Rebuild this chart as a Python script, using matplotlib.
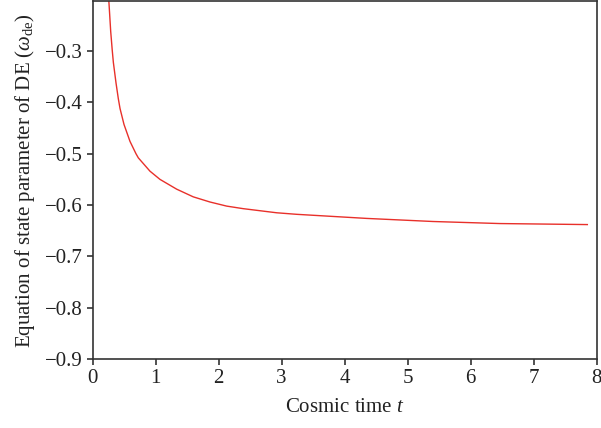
import matplotlib
matplotlib.use("Agg")
import matplotlib.pyplot as plt

# Data
t = [0.245, 0.261, 0.288, 0.312, 0.330, 0.372, 0.409, 0.436, 0.499, 0.594,
     0.689, 0.726, 0.911, 1.070, 1.334, 1.598, 1.862, 2.127, 2.39, 2.655,
     2.92, 3.236, 4.35, 5.40, 6.46, 7.85]
w_de = [-0.18, -0.2075, -0.262, -0.298, -0.322, -0.362, -0.393, -0.412, -0.443, -0.476,
        -0.500, -0.508, -0.534, -0.550, -0.569, -0.584, -0.594, -0.602, -0.607, -0.611,
        -0.615, -0.618, -0.626, -0.632, -0.636, -0.638]
xticks = [0, 1, 2, 3, 4, 5, 6, 7, 8]
yticks = [-0.9, -0.8, -0.7, -0.6, -0.5, -0.4, -0.3]

plt.rcParams['font.family'] = ['Liberation Serif', 'DejaVu Serif']
plt.rcParams['mathtext.fontset'] = 'custom'
plt.rcParams['mathtext.rm'] = 'Liberation Serif'
plt.rcParams['mathtext.it'] = 'Liberation Serif:italic'

fig = plt.figure(figsize=(6.01, 4.28), dpi=100)
ax = fig.add_axes([0.154, 0.161, 0.839, 0.8355])
ax.plot(t, w_de, color='#e8302a', linewidth=1.0, solid_joinstyle='round')
ax.set_xlim(0, 8)
ax.set_ylim(-0.9, -0.2035)
ax.set_xticks(xticks)
ax.set_yticks(yticks)
ax.set_yticklabels([f"\u2212{abs(v):.1f}" for v in yticks])
ax.tick_params(direction='out', length=4, width=1.1, labelsize=15, colors='#222222', pad=3)
for s in ax.spines.values():
    s.set_linewidth(1.2)
    s.set_color('#333333')
ax.set_xlabel(r"Cosmic time $t$", fontsize=15, color='#222222', labelpad=7)
ax.set_ylabel(r"Equation of state parameter of DE ($\omega_{\rm de}$)", fontsize=15,
              color='#222222', labelpad=6)
fig.savefig("out.png", dpi=100)
